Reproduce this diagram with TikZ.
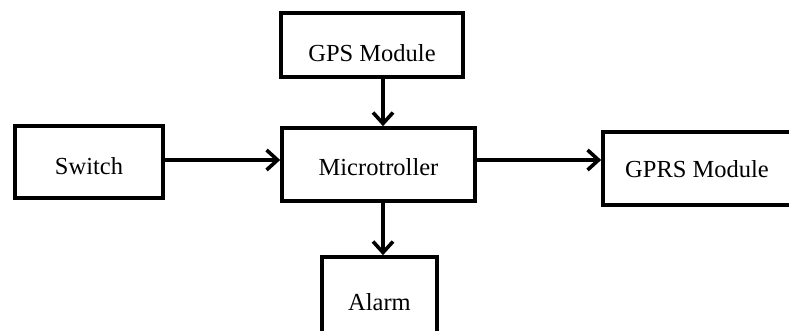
\documentclass[tikz,border=0pt]{standalone}
\usepackage{fontspec}
\setmainfont{Liberation Serif}
\usetikzlibrary{arrows.meta}
% lower a label inside its box without changing the box size
\newcommand{\lowerby}[2]{\raisebox{-#1}[\height][\depth]{#2}}
\begin{document}
\begin{tikzpicture}[x=1pt,y=-1pt,
  blockbox/.style={draw=black, line width=3.6pt, fill=white, inner sep=0pt,
    font=\fontsize{24.5}{28}\selectfont},
  flow/.style={line width=3.6pt, -{Straight Barb[length=11pt,width=20pt,line width=3.6pt]}}]
  \useasboundingbox (0,0) rectangle (789,331);
  \clip (0,0) rectangle (789,331);
  \fill[white] (0,0) rectangle (789,331);
  % blocks
  \node[blockbox, minimum width=182pt, minimum height=64pt] (gps) at (372,45) {\lowerby{8pt}{GPS Module}};
  \node[blockbox, minimum width=148pt, minimum height=72pt] (switch) at (89,162) {\lowerby{4pt}{Switch}};
  \node[blockbox, minimum width=193pt, minimum height=73pt] (micro) at (378.5,164.5) {\lowerby{3pt}{Microtroller}};
  \node[blockbox, minimum width=188pt, minimum height=73pt] (gprs) at (697,168.5) {\lowerby{1pt}{GPRS Module}};
  \node[blockbox, minimum width=115pt, minimum height=84pt] (alarm) at (379.5,299) {\lowerby{3pt}{Alarm}};
  % arrow column and row
  \coordinate (col) at (383,0);
  \coordinate (row) at (0,160);
  % connectors
  \draw[flow] (gps.south -| col) -- (micro.north -| col);
  \draw[flow] (switch.east |- row) -- (micro.west |- row);
  \draw[flow] (micro.east |- row) -- (gprs.west |- row);
  \draw[flow] (micro.south -| col) -- (alarm.north -| col);
\end{tikzpicture}
\end{document}
